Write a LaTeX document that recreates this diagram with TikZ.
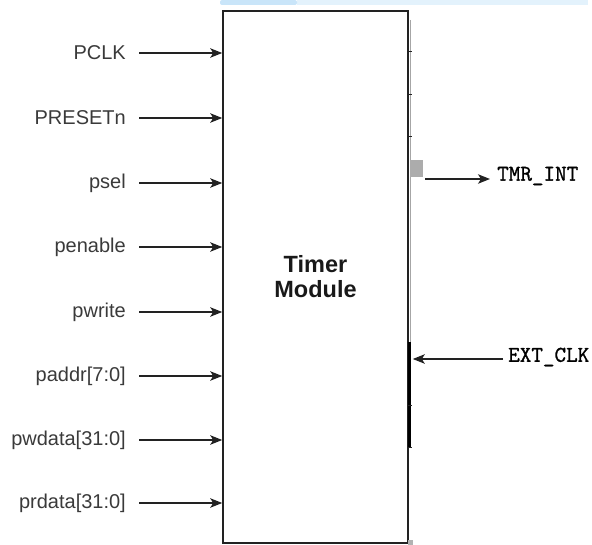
\documentclass[tikz,border=0pt]{standalone}
\usepackage{fontspec}
\setmainfont{Liberation Sans}
\newfontfamily\monob{Latin Modern Mono}[FakeBold=1.2]
\usetikzlibrary{arrows.meta}
\definecolor{lbl}{HTML}{3A3A3A}
\definecolor{edge}{HTML}{222222}
\definecolor{bandA}{HTML}{C9E5F9}
\definecolor{bandB}{HTML}{E3F2FC}
\begin{document}
\begin{tikzpicture}[x=1pt,y=-1pt,
  sig/.style={anchor=east,inner sep=0pt,text=lbl,font=\fontsize{20}{23}\selectfont},
  mono/.style={anchor=west,inner sep=0pt,text=black,font=\monob\fontsize{22.5}{25}\selectfont},
  arr/.style={draw=edge,line width=1.3pt,-{Stealth[length=12pt,width=9.5pt,inset=3pt]}},
  tick/.style={draw=edge,line width=1pt}]
\useasboundingbox (0,0) rectangle (592,545);
% faint watermark band at the top
\fill[bandB] (297,0) rectangle (588,5);
\fill[bandA,rounded corners=2pt] (220,0) rectangle (297,5);
% module box
\node[draw=edge,line width=1.6pt,minimum width=185pt,minimum height=532pt,inner sep=0pt,
      font=\bfseries\fontsize{23.5}{25}\selectfont,text=black!90,align=center] (box) at (315.5,277) {Timer\\Module};
% right edge details
\draw[gray!70,line width=1pt] (410.5,20) -- (410.5,342);
\draw[black,line width=3pt] (409,342) -- (409,447);
\foreach \yy in {52,95,137,405,447} \draw[tick] (408,\yy) -- (412,\yy);
\node[fill=gray!65,minimum width=13pt,minimum height=17pt,inner sep=0pt] (sq) at (416.5,168.5) {};
\fill[gray!60] (408,540) rectangle (413,545);
% input signals
\foreach \n/\t/\yy in {a/PCLK/53,b/PRESETn/118,c/psel/183,d/penable/247,e/pwrite/312,f/{paddr[7:0]}/376,g/{pwdata[31:0]}/440,h/{prdata[31:0]}/503}{
  \node[sig] (\n) at (126,\yy) {\t};
  \coordinate (\n s) at (139,\yy);
  \draw[arr] (\n s) -- (\n s -| box.west);
}
% outputs / external input
\node[mono] (tmr) at (497,176) {TMR\_INT};
\coordinate (tmrs) at (425,179);
\coordinate (tmre) at (490,179);
\draw[arr] (tmrs) -- (tmre);
\node[mono] (ext) at (508,357) {EXT\_CLK};
\coordinate (exts) at (503,359);
\draw[arr,shorten >=4pt] (exts) -- (exts -| box.east);
\end{tikzpicture}
\end{document}
